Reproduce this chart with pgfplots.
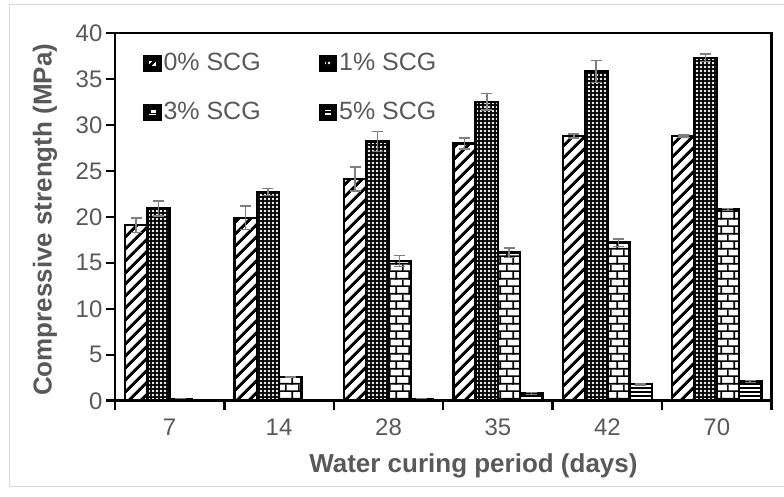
\documentclass[border=0pt]{standalone}
\usepackage{fontspec}
\setmainfont{Liberation Sans}
\usepackage{pgfplots}
\pgfplotsset{compat=1.18}
\usetikzlibrary{patterns,patterns.meta}
\definecolor{txtgray}{HTML}{595959}
\definecolor{errgray}{HTML}{7F7F7F}
\definecolor{framegray}{HTML}{D9D9D9}
\definecolor{axblack}{HTML}{010101}

% bar fills
\tikzdeclarepattern{name=widediag, type=uncolored,
  bottom left={(0bp,0bp)}, top right={(9bp,9bp)}, tile size={(9bp,9bp)},
  tile transformation={rotate=45},
  code={\fill (0bp,0bp) rectangle (9bp,3.4bp);}}
\tikzdeclarepattern{name=dotgrid, type=colored,
  bottom left={(0bp,0bp)}, top right={(4bp,4bp)}, tile size={(4bp,4bp)},
  code={\fill[black] (0bp,0bp) rectangle (4bp,4bp);
        \fill[white] (2bp,2bp) circle (1.45bp);}}
\tikzdeclarepattern{name=mybricks, type=uncolored,
  bottom left={(0bp,0bp)}, top right={(13bp,15bp)}, tile size={(13bp,15bp)},
  code={\fill (0bp,0bp) rectangle (13bp,1.6bp);
        \fill (0bp,7.5bp) rectangle (13bp,9.1bp);
        \fill (0bp,0bp) rectangle (1.6bp,7.5bp);
        \fill (6.5bp,7.5bp) rectangle (8.1bp,15bp);}}
\tikzdeclarepattern{name=hlines, type=uncolored,
  bottom left={(0bp,0bp)}, top right={(4bp,4bp)}, tile size={(4bp,4bp)},
  code={\fill (0bp,0bp) rectangle (4bp,1.8bp);}}

\begin{document}
\begin{tikzpicture}
\path (0bp,0bp) rectangle (784bp,497bp);
\draw[framegray, line width=1bp] (784bp,10bp) -- (10bp,10bp) -- (10bp,492bp) -- (784bp,492bp);
\begin{axis}[
  name=ax,
  at={(115bp,96bp)}, anchor=south west,
  scale only axis, width=657bp, height=368bp,
  ybar=0pt, bar width=22.3bp,
  xmin=-0.5, xmax=5.5, ymin=0, ymax=40,
  xtick={-0.5,0.5,...,5.5}, xticklabels={},
  extra x ticks={0,...,5}, extra x tick labels={7,14,28,35,42,70},
  extra x tick style={major tick length=0pt},
  ytick={0,5,...,40},
  axis line style={draw=axblack, line width=2.5bp},
  tick style={draw=axblack, line width=2.5bp},
  tick pos=left, tick align=outside,
  major tick length=9bp,
  /pgf/number format/assume math mode=true,
  ticklabel style={font=\fontsize{24bp}{28bp}\selectfont, text=txtgray},
  xticklabel style={yshift=-15bp},
  xlabel={Water curing period (days)},
  ylabel={Compressive strength (MPa)},
  label style={font=\bfseries\fontsize{26bp}{30bp}\selectfont, text=txtgray},
  xlabel style={at={(axis description cs:0.546,-0.177)}, anchor=center},
  ylabel style={at={(axis description cs:-0.1065,0.492)}, anchor=center, rotate=0},
  legend columns=2,
  legend cell align=left,
  legend image code/.code={\fill[black] (-1.5bp,-7.5bp) rectangle (14.5bp,7.5bp);
    \path[#1, draw=none] (2bp,-4bp) rectangle (11bp,4bp);},
  legend style={at={(axis description cs:0.038,0.959)}, anchor=north west,
    draw=none, fill=none, text=txtgray,
    font=\fontsize{25bp}{30bp}\selectfont,
    nodes={text height=18bp, text depth=5bp, inner sep=2bp},
    row sep=22bp,
    /tikz/every even column/.append style={column sep=56bp}},
  error bars/y dir=both, error bars/y explicit,
  error bars/error bar style={errgray, line width=1.5bp},
  error bars/error mark options={rotate=90, errgray, mark size=5.5bp, line width=1.5bp},
]
\addplot[draw=black, line width=2.5bp, preaction={fill=white}, preaction={pattern=widediag, pattern color=black}]
  coordinates {(0,19.1) +- (0,0.8) (1,19.9) +- (0,1.3) (2,24.1) +- (0,1.3)
               (3,28.0) +- (0,0.6) (4,28.8) +- (0,0.2) (5,28.8) +- (0,0.1)};
\addplot[draw=black, line width=2.5bp, preaction={pattern=dotgrid}]
  coordinates {(0,20.9) +- (0,0.8) (1,22.7) +- (0,0.4) (2,28.2) +- (0,1.1)
               (3,32.5) +- (0,0.9) (4,35.8) +- (0,1.2) (5,37.3) +- (0,0.4)};
\addplot[draw=black, line width=2.5bp, preaction={fill=white}, preaction={pattern=mybricks, pattern color=black}]
  coordinates {(0,0.2) +- (0,0) (1,2.6) +- (0,0.05) (2,15.2) +- (0,0.6)
               (3,16.1) +- (0,0.5) (4,17.2) +- (0,0.4) (5,20.8) +- (0,0.1)};
\addplot[draw=black, line width=2.5bp, preaction={fill=white}, preaction={pattern=hlines, pattern color=black}]
  coordinates {(0,0.1) +- (0,0) (1,0.1) +- (0,0) (2,0.2) +- (0,0)
               (3,0.8) +- (0,0.1) (4,1.8) +- (0,0.1) (5,2.1) +- (0,0.1)};
\legend{0\% SCG,1\% SCG,3\% SCG,5\% SCG}
\end{axis}
% plot frame, drawn over the finished axis box
\draw[axblack, line width=2.5bp] (ax.south west) rectangle (ax.north east);
\end{tikzpicture}
\end{document}
